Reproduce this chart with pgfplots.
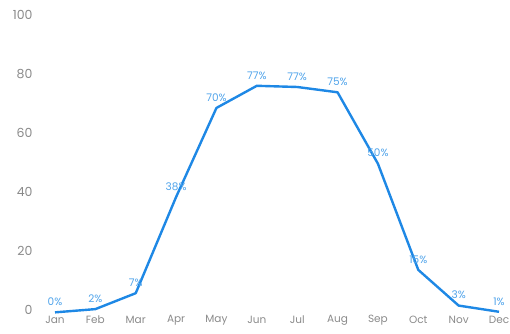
\documentclass[border=0pt]{standalone}
\usepackage{fontspec}
\setmainfont{Poppins}
\usepackage{pgfplots}
\pgfplotsset{compat=1.18}
\definecolor{linec}{HTML}{1E88E5}
\definecolor{labc}{HTML}{4FA3EA}
\definecolor{tickc}{HTML}{8A8A8A}
\begin{document}
\begin{tikzpicture}
\path[use as bounding box] (-55pt,-23pt) rectangle (455pt,310pt);
\begin{axis}[
  at={(0pt,0pt)}, anchor=origin,
  scale only axis, width=444pt, height=295pt,
  xmin=0, xmax=11, ymin=0, ymax=100,
  clip=false,
  axis line style={draw=none},
  major tick length=0pt,
  xtick={0,...,11},
  xticklabels={Jan,Feb,Mar,Apr,May,Jun,Jul,Aug,Sep,Oct,Nov,Dec},
  ytick={0,20,40,60,80,100},
  /pgf/number format/assume math mode=true,
  yticklabel style={font=\fontsize{12.5}{14}\selectfont, text=tickc, anchor=east, xshift=-19pt},
  xticklabel style={font=\fontsize{10.5}{12}\selectfont, text=tickc, anchor=center, yshift=-10pt},
  xticklabel shift=0pt,
]
\addplot[linec, line width=2.4pt, line join=round,
  nodes near coords,
  point meta=explicit symbolic,
  every node near coord/.append style={font=\fontsize{10.5}{12}\selectfont, text=labc, anchor=center, yshift=10.5pt},
] table[meta=lab] {
x y lab
0 -0.8 0\%
1 0.3 2\%
2 5.7 7\%
3 38.3 38\%
4 68.5 70\%
5 76 77\%
6 75.6 77\%
7 73.8 75\%
8 49.6 50\%
9 13.6 15\%
10 1.5 3\%
11 -0.6 1\%
};
\end{axis}
\end{tikzpicture}
\end{document}
